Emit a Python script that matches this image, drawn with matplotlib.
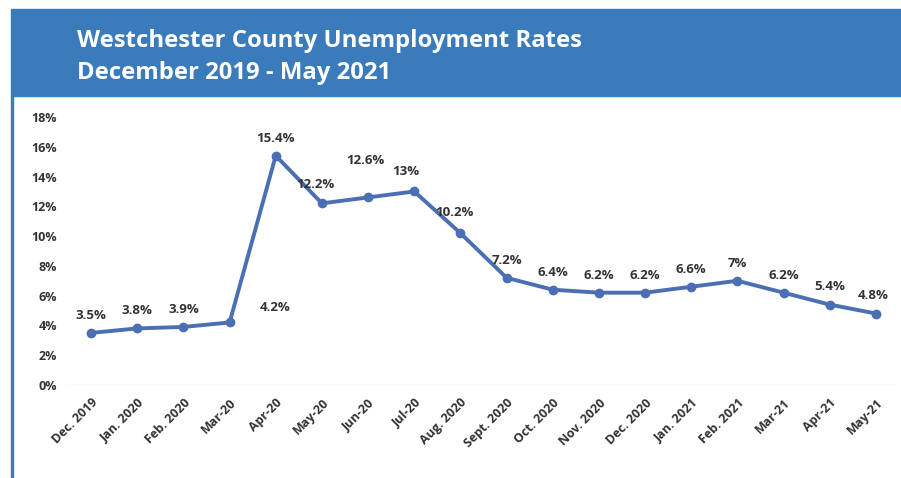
import numpy as np
import matplotlib.pyplot as plt
from matplotlib.patches import Rectangle

# ---------------------------------------------------------------------------
# Data
# ---------------------------------------------------------------------------
months = ["Dec. 2019", "Jan. 2020", "Feb. 2020", "Mar-20", "Apr-20", "May-20",
          "Jun-20", "Jul-20", "Aug. 2020", "Sept. 2020", "Oct. 2020",
          "Nov. 2020", "Dec. 2020", "Jan. 2021", "Feb. 2021", "Mar-21",
          "Apr-21", "May-21"]
rates = [3.5, 3.8, 3.9, 4.2, 15.4, 12.2, 12.6, 13.0, 10.2, 7.2, 6.4,
         6.2, 6.2, 6.6, 7.0, 6.2, 5.4, 4.8]
rate_labels = ["3.5%", "3.8%", "3.9%", "4.2%", "15.4%", "12.2%", "12.6%",
               "13%", "10.2%", "7.2%", "6.4%", "6.2%", "6.2%", "6.6%", "7%",
               "6.2%", "5.4%", "4.8%"]
yticks = [0, 2, 4, 6, 8, 10, 12, 14, 16, 18]

# label offsets in points (dx, dy)
label_offsets = [(0, 8), (0, 8), (0, 8), (33, 6), (0, 8), (-5, 9),
                 (-2, 22), (-6, 10), (-4, 10), (0, 8), (0, 8), (0, 8),
                 (0, 8), (0, 8), (0, 8), (0, 8), (0, 8), (-2, 8)]

LINE = "#4a6fb3"
HEADER = "#3a7bbb"
TEXT = "#333333"

plt.rcParams["font.family"] = ["Open Sans", "DejaVu Sans"]

fig = plt.figure(figsize=(9.01, 4.78), dpi=100)

# header band and left rule
fig.patches.append(Rectangle((11 / 901, 1 - 96 / 478), 1, 87 / 478,
                             transform=fig.transFigure, color=HEADER, zorder=0))
fig.patches.append(Rectangle((11 / 901, 0), 1.5 / 901, 1 - 96 / 478,
                             transform=fig.transFigure, color=HEADER, zorder=0))
fig.text(77 / 901, 1 - 41 / 478, "Westchester County Unemployment Rates",
         color="white", fontsize=17.2, fontweight="bold", va="center")
fig.text(77 / 901, 1 - 73 / 478, "December 2019 - May 2021",
         color="white", fontsize=17.2, fontweight="bold", va="center")

ax = fig.add_axes([68 / 901, 1 - 385 / 478, 831 / 901, 268 / 478])
x = np.arange(len(months))
ax.plot(x, rates, color=LINE, linewidth=2.8, marker="o", markersize=6)
ax.axhline(0, color="#e6e6e6", linewidth=1, zorder=0)

for xi, yi, lab, off in zip(x, rates, rate_labels, label_offsets):
    ax.annotate(lab, (xi, yi), xytext=off, textcoords="offset points",
                ha="center", va="bottom", fontsize=9.5, fontweight="bold",
                color=TEXT)

ax.set_xlim(-0.5, len(months) - 0.5)
ax.set_ylim(0, 18)
ax.set_yticks(yticks)
ax.set_yticklabels([f"{t}%" for t in yticks], fontsize=9,
                   fontweight="bold", color=TEXT)
ax.set_xticks(x)
ax.set_xticklabels(months, rotation=45, ha="right", rotation_mode="anchor",
                   fontsize=9, fontweight="bold", color=TEXT)
ax.tick_params(length=0, pad=8)
for s in ax.spines.values():
    s.set_visible(False)

plt.savefig("out.png", dpi=100)
